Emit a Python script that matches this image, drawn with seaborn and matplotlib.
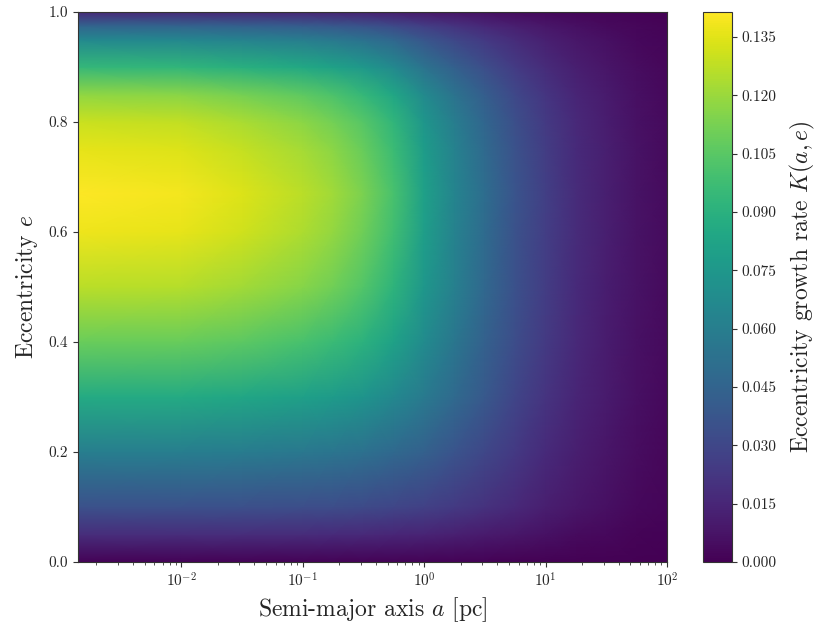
import numpy as np
import matplotlib
matplotlib.use("Agg")
import matplotlib.pyplot as plt
import seaborn as sns
from matplotlib.ticker import FixedLocator, FormatStrFormatter

# ---- data ----
# semi-major axis sample positions [pc] (quarter-decade steps)
semi_major_axis = [1.41e-3, 1e-2, 3.16e-2, 1e-1, 1.78e-1, 3.16e-1, 5.62e-1, 1.0,
                   1.78, 3.16, 5.62, 10.0, 17.8, 31.6, 56.2, 100.0]
# eccentricity sample positions
eccentricity = [0.0, 0.05, 0.1, 0.2, 0.3, 0.4, 0.5, 0.6, 0.67, 0.75, 0.8,
                0.85, 0.9, 0.95, 0.975, 1.0]
# growth rate K(a, e): one row per eccentricity, one column per semi-major axis
K_e000 = [0.001, 0.001, 0.001, 0.001, 0.0009, 0.0009, 0.0008, 0.0008, 0.0007, 0.0006, 0.0005, 0.0003, 0.0002, 0.0002, 0.0001, 0.0001]
K_e005 = [0.018, 0.018, 0.0178, 0.0173, 0.0168, 0.0162, 0.0153, 0.014, 0.0122, 0.0104, 0.0083, 0.0061, 0.0043, 0.0029, 0.0016, 0.0009]
K_e010 = [0.035, 0.035, 0.0347, 0.0336, 0.0327, 0.0315, 0.0298, 0.0273, 0.0238, 0.0203, 0.0161, 0.0119, 0.0084, 0.0056, 0.0032, 0.0018]
K_e020 = [0.060, 0.060, 0.0588, 0.0567, 0.0549, 0.0522, 0.048, 0.0432, 0.0366, 0.030, 0.0234, 0.0168, 0.012, 0.0078, 0.0048, 0.0024]
K_e030 = [0.086, 0.086, 0.0839, 0.080, 0.077, 0.0731, 0.0662, 0.0576, 0.0482, 0.0387, 0.0292, 0.0215, 0.0146, 0.0103, 0.006, 0.003]
K_e040 = [0.109, 0.1085, 0.1057, 0.1003, 0.0959, 0.0905, 0.0807, 0.0676, 0.0556, 0.0436, 0.0327, 0.024, 0.0164, 0.0109, 0.0065, 0.0035]
K_e050 = [0.127, 0.1257, 0.1219, 0.1156, 0.1105, 0.1029, 0.0914, 0.0749, 0.061, 0.047, 0.0349, 0.0254, 0.0171, 0.0114, 0.007, 0.0038]
K_e060 = [0.138, 0.1361, 0.1311, 0.1242, 0.1184, 0.1104, 0.098, 0.0787, 0.0628, 0.049, 0.0359, 0.0255, 0.0173, 0.0117, 0.0069, 0.0039]
K_e067 = [0.141, 0.139, 0.134, 0.127, 0.121, 0.113, 0.100, 0.080, 0.064, 0.050, 0.037, 0.026, 0.0176, 0.012, 0.007, 0.004]
K_e075 = [0.136, 0.1341, 0.1292, 0.1224, 0.1167, 0.1088, 0.0966, 0.0775, 0.0619, 0.0483, 0.0354, 0.0252, 0.017, 0.0116, 0.0068, 0.0038]
K_e080 = [0.13, 0.1282, 0.1235, 0.117, 0.1115, 0.104, 0.0923, 0.0741, 0.0592, 0.0462, 0.0338, 0.0241, 0.0163, 0.0111, 0.0065, 0.0036]
K_e085 = [0.118, 0.1163, 0.1121, 0.1062, 0.1012, 0.0944, 0.0838, 0.0673, 0.0537, 0.0419, 0.0307, 0.0218, 0.0148, 0.010, 0.0059, 0.0033]
K_e090 = [0.094, 0.0927, 0.0893, 0.0846, 0.0807, 0.0752, 0.0667, 0.0536, 0.0428, 0.0334, 0.0244, 0.0174, 0.0118, 0.008, 0.0047, 0.0026]
K_e095 = [0.066, 0.0651, 0.0627, 0.0594, 0.0566, 0.0528, 0.0469, 0.0376, 0.030, 0.0234, 0.0172, 0.0122, 0.0083, 0.0056, 0.0033, 0.0018]
K_e0975 = [0.045, 0.0444, 0.0428, 0.0405, 0.0386, 0.036, 0.032, 0.0257, 0.0205, 0.016, 0.0117, 0.0083, 0.0056, 0.0038, 0.0023, 0.0013]
K_e100 = [0.016, 0.0158, 0.0152, 0.0144, 0.0137, 0.0128, 0.0114, 0.0091, 0.0073, 0.0057, 0.0042, 0.003, 0.002, 0.0014, 0.0008, 0.0004]

colorbar_ticks = [0.000, 0.015, 0.030, 0.045, 0.060, 0.075, 0.090, 0.105, 0.120, 0.135]
y_ticks = [0.0, 0.2, 0.4, 0.6, 0.8, 1.0]

# ---- style ----
sns.set_style("ticks")
plt.rcParams["font.family"] = ["cmr10", "DejaVu Serif"]
plt.rcParams["mathtext.fontset"] = "cm"
plt.rcParams["axes.unicode_minus"] = False
plt.rcParams["axes.formatter.use_mathtext"] = True
plt.rcParams["xtick.direction"] = "out"
plt.rcParams["ytick.direction"] = "out"

K = np.array([K_e000, K_e005, K_e010, K_e020, K_e030, K_e040, K_e050, K_e060,
              K_e067, K_e075, K_e080, K_e085, K_e090, K_e095, K_e0975, K_e100])
A, E = np.meshgrid(semi_major_axis, eccentricity)

cmap = sns.color_palette("viridis", as_cmap=True)

fig = plt.figure(figsize=(8.24, 6.23), dpi=100)
ax = fig.add_axes([0.0947, 0.0979, 0.7148, 0.8828])
cax = fig.add_axes([0.853, 0.0979, 0.0352, 0.8828])

mesh = ax.pcolormesh(A, E, K, shading="gouraud", cmap=cmap, vmin=0.0, vmax=0.1414,
                     rasterized=True)
ax.set_xscale("log")
ax.set_xlim(semi_major_axis[0], semi_major_axis[-1])
ax.set_ylim(0, 1)
ax.yaxis.set_major_locator(FixedLocator(y_ticks))
ax.yaxis.set_major_formatter(FormatStrFormatter("%.1f"))
ax.tick_params(axis="both", which="major", labelsize=11, length=3.5, width=0.8, color="#333333")
ax.tick_params(axis="x", which="minor", length=2, width=0.6, color="#333333")
for s in ax.spines.values():
    s.set_linewidth(0.8)
    s.set_color("#333333")
    s.set_visible(True)

ax.set_xlabel("Semi-major axis $a$ [pc]", fontsize=17, labelpad=4)
ax.set_ylabel("Eccentricity $e$", fontsize=17, labelpad=6)

cb = fig.colorbar(mesh, cax=cax)
cb.set_ticks(colorbar_ticks)
cb.ax.yaxis.set_major_formatter(FormatStrFormatter("%.3f"))
cb.ax.tick_params(labelsize=11, length=3.5, width=0.8, color="#333333")
cb.outline.set_linewidth(0.8)
cb.outline.set_edgecolor("#333333")
cb.set_label("Eccentricity growth rate $K(a,e)$", fontsize=17, labelpad=8)

fig.savefig("out.png", dpi=100)
